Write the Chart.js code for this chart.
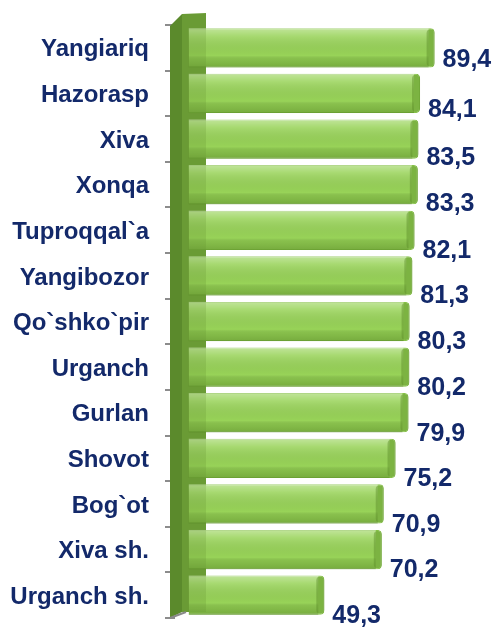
<!DOCTYPE html>
<html><head><meta charset="utf-8">
<script src="https://cdn.jsdelivr.net/npm/chart.js@4"></script>
<style>html,body{margin:0;padding:0;background:#fff}#w{width:494px;height:628px}</style>
</head><body><div id="w"><canvas id="c"></canvas></div>
<script>
const categories = ["Yangiariq","Hazorasp","Xiva","Xonqa","Tuproqqal`a","Yangibozor","Qo`shko`pir","Urganch","Gurlan","Shovot","Bog`ot","Xiva sh.","Urganch sh."];
const values = [89.4,84.1,83.5,83.3,82.1,81.3,80.3,80.2,79.9,75.2,70.9,70.2,49.3];
const valueLabels = ["89,4","84,1","83,5","83,3","82,1","81,3","80,3","80,2","79,9","75,2","70,9","70,2","49,3"];
const navy = "#13296A";

const wallPlugin = {
  id: 'wall',
  beforeDatasetsDraw(chart) {
    const ctx = chart.ctx, a = chart.chartArea;
    const L = a.left - 5, M = a.left + 7, R = a.left + 31;
    ctx.save();
    ctx.fillStyle = '#6E9F38';
    ctx.beginPath();
    ctx.moveTo(M, a.top - 11); ctx.lineTo(R, a.top - 12); ctx.lineTo(R, a.bottom - 6); ctx.lineTo(M, a.bottom - 6);
    ctx.closePath(); ctx.fill();
    ctx.fillStyle = '#5B8A2C';
    ctx.beginPath();
    ctx.moveTo(L, a.top + 1); ctx.lineTo(M, a.top - 11); ctx.lineTo(M, a.bottom - 6); ctx.lineTo(L, a.bottom);
    ctx.closePath(); ctx.fill();
    ctx.strokeStyle = '#8a8a8a'; ctx.lineWidth = 2;
    ctx.beginPath(); ctx.moveTo(L, a.bottom); ctx.lineTo(M + 4, a.bottom - 6); ctx.stroke();
    ctx.restore();
  },
  afterDatasetsDraw(chart) {
    const ctx = chart.ctx, a = chart.chartArea;
    const meta = chart.getDatasetMeta(0);
    ctx.save();
    meta.data.forEach((bar, i) => {
      const top = bar.y - bar.height / 2, h = bar.height;
      const left = bar.base, w = bar.x - bar.base;
      const g = ctx.createLinearGradient(0, top, 0, top + h);
      g.addColorStop(0, 'rgba(255,255,255,0.40)');
      g.addColorStop(0.2, 'rgba(255,255,255,0.15)');
      g.addColorStop(0.7, 'rgba(0,0,0,0.0)');
      g.addColorStop(0.78, 'rgba(60,100,20,0.18)');
      g.addColorStop(1, 'rgba(40,80,0,0.30)');
      ctx.fillStyle = g;
      ctx.fillRect(left, top, w - 6, h);
      ctx.fillStyle = 'rgba(90,140,40,0.45)';
      ctx.beginPath();
      ctx.roundRect(bar.x - 8, top + 1, 8, h - 2, 4);
      ctx.fill();
      ctx.fillStyle = navy;
      ctx.font = 'bold 25px "Liberation Sans", Arial, sans-serif';
      ctx.textAlign = 'left'; ctx.textBaseline = 'middle';
      ctx.fillText(valueLabels[i], bar.x + 8, bar.y + 21 - 9 * Math.pow(0.5, i));
    });
    ctx.fillStyle = 'rgba(95,140,45,0.22)';
    ctx.fillRect(a.left + 7, a.top - 11, 24, a.bottom - a.top + 5);
    ctx.restore();
  }
};

new Chart(document.getElementById('c'), {
  type: 'bar',
  data: {
    labels: categories,
    datasets: [{
      data: values,
      backgroundColor: '#98D358',
      borderColor: '#86C148',
      borderWidth: 1,
      borderRadius: 4,
      borderSkipped: 'start',
      barPercentage: 0.86,
      categoryPercentage: 1
    }]
  },
  options: {
    indexAxis: 'y',
    responsive: true,
    maintainAspectRatio: false,
    animation: false,
    layout: { padding: { top: 25, bottom: 10, left: 0, right: 0 } },
    plugins: { legend: { display: false }, tooltip: { enabled: false } },
    scales: {
      x: { display: false, min: -5, max: 111 },
      y: {
        afterFit(s) { s.width = 175; s.paddingTop = 0; s.paddingBottom = 0; },
        border: { display: false },
        grid: { display: true, drawOnChartArea: false, drawTicks: true, tickLength: 10, color: '#8c8c8c', lineWidth: 2, offset: true },
        ticks: { color: navy, padding: 16, labelOffset: 2, font: { family: '"Liberation Sans", Arial, sans-serif', size: 24, weight: 'bold' } }
      }
    }
  },
  plugins: [wallPlugin]
});
</script></body></html>
